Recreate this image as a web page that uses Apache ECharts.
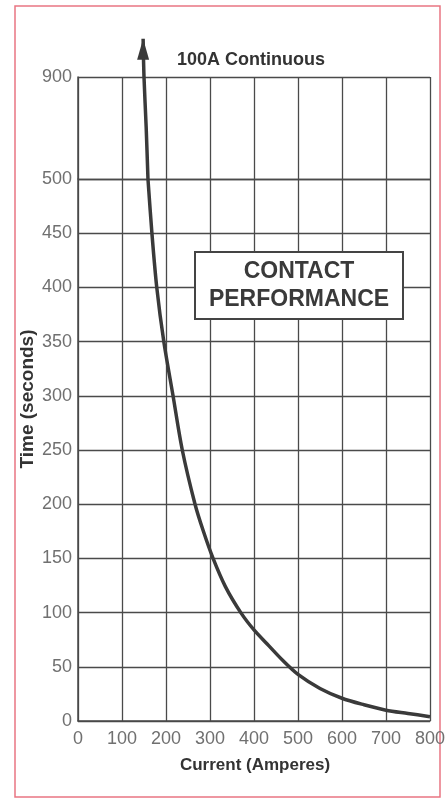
<!DOCTYPE html>
<html>
<head>
<meta charset="utf-8">
<script src="https://cdn.jsdelivr.net/npm/echarts@6/dist/echarts.min.js"></script>
<style>
  html, body { margin: 0; padding: 0; background: #ffffff; }
  #chart { width: 448px; height: 798px; }
</style>
</head>
<body>
<div id="chart"></div>
<script>
// Curve: current (A) vs time (s)
const currentA = [148, 150, 155, 159, 168, 179, 195, 216, 237, 266, 285, 307, 335, 370, 400, 430, 465, 500, 550, 600, 650, 700, 750, 800];
const timeS    = [1050, 900, 700, 500, 450, 400, 350, 300, 250, 200, 175, 150, 124, 100, 84, 71, 56, 43, 30, 21, 15, 10, 7, 4];
const xTicks = [0, 100, 200, 300, 400, 500, 600, 700, 800];
const yTicksLower = [0, 50, 100, 150, 200, 250, 300, 350, 400, 450, 500];
const yTicksUpper = [500, 900];
const BREAK = 500;

const FONT = "'Liberation Sans', Arial, Helvetica, sans-serif";
const GRIDC = '#4a4a4a';
const LABELC = '#707070';

const pts = currentA.map((a, i) => [a, timeS[i]]);
const upperPts = pts.filter(p => p[1] >= BREAK);
const lowerPts = pts.filter(p => p[1] <= BREAK);
const upperData = upperPts.map((p, i) => {
  if (i === 0) {
    return { value: p, symbol: 'triangle', symbolSize: [12, 21], symbolOffset: [0, '50%'] };
  }
  return { value: p };
});

const chart = echarts.init(document.getElementById('chart'), null, { renderer: 'canvas' });

const xCommon = {
  type: 'value', min: xTicks[0], max: xTicks[xTicks.length - 1], interval: 100,
  splitLine: { show: true, lineStyle: { color: GRIDC, width: 1.3 } },
  axisTick: { show: false }
};

chart.setOption({
  backgroundColor: '#ffffff',
  animation: false,
  grid: [
    { left: 78, right: 18, top: 77, height: 102 },
    { left: 78, right: 18, top: 179, height: 542 }
  ],
  xAxis: [
    Object.assign({}, xCommon, {
      gridIndex: 0,
      axisLine: { show: false },
      axisLabel: { show: false }
    }),
    Object.assign({}, xCommon, {
      gridIndex: 1,
      axisLine: { show: true, onZero: false, lineStyle: { color: GRIDC, width: 1.5 } },
      axisLabel: { show: true, color: LABELC, fontSize: 18, fontFamily: FONT, margin: 9 }
    })
  ],
  yAxis: [
    {
      type: 'value', gridIndex: 0, min: yTicksUpper[0], max: yTicksUpper[1], interval: yTicksUpper[1] - yTicksUpper[0],
      axisLine: { show: true, lineStyle: { color: GRIDC, width: 1.5 } },
      axisTick: { show: false },
      splitLine: { show: true, lineStyle: { color: GRIDC, width: 1.3 } },
      axisLabel: {
        color: LABELC, fontSize: 18, fontFamily: FONT, margin: 6,
        formatter: v => (v === yTicksUpper[1] ? String(v) : '')
      }
    },
    {
      type: 'value', gridIndex: 1, min: yTicksLower[0], max: yTicksLower[yTicksLower.length - 1], interval: 50,
      axisLine: { show: true, lineStyle: { color: GRIDC, width: 1.5 } },
      axisTick: { show: false },
      splitLine: { show: true, lineStyle: { color: GRIDC, width: 1.3 } },
      axisLabel: { color: LABELC, fontSize: 18, fontFamily: FONT, margin: 6 }
    }
  ],
  series: [
    {
      type: 'line', xAxisIndex: 0, yAxisIndex: 0, data: upperData,
      smooth: 0.3, clip: false, symbol: 'none', showSymbol: true,
      itemStyle: { color: '#3a3a3a' },
      lineStyle: { color: '#3a3a3a', width: 3.5 },
      z: 5
    },
    {
      type: 'line', xAxisIndex: 1, yAxisIndex: 1, data: lowerPts,
      smooth: 0.3, symbol: 'none',
      lineStyle: { color: '#3a3a3a', width: 3.5 },
      z: 5
    }
  ],
  graphic: [
    {
      type: 'rect', z: 0, silent: true,
      shape: { x: 15, y: 6, width: 425, height: 791 },
      style: { fill: 'rgba(0,0,0,0)', stroke: '#e97582', lineWidth: 1.5 }
    },
    {
      type: 'text', z: 10,
      style: { text: '100A Continuous', x: 251, y: 60, align: 'center', verticalAlign: 'middle',
               font: 'bold 18px ' + FONT, fill: '#333333' }
    },
    {
      type: 'rect', z: 10,
      shape: { x: 195, y: 252, width: 208, height: 67 },
      style: { fill: '#ffffff', stroke: '#444444', lineWidth: 2 }
    },
    {
      type: 'text', z: 11,
      style: { text: 'CONTACT', x: 299, y: 272, align: 'center', verticalAlign: 'middle',
               font: 'bold 23px ' + FONT, fill: '#3a3a3a' }
    },
    {
      type: 'text', z: 11,
      style: { text: 'PERFORMANCE', x: 299, y: 300, align: 'center', verticalAlign: 'middle',
               font: 'bold 23px ' + FONT, fill: '#3a3a3a' }
    },
    {
      type: 'text', z: 10, x: 28, y: 399, rotation: Math.PI / 2,
      style: { text: 'Time (seconds)', x: 0, y: 0, align: 'center', verticalAlign: 'middle',
               font: 'bold 19px ' + FONT, fill: '#333333' }
    },
    {
      type: 'text', z: 10,
      style: { text: 'Current (Amperes)', x: 255, y: 765, align: 'center', verticalAlign: 'middle',
               font: 'bold 17px ' + FONT, fill: '#333333' }
    }
  ]
});
</script>
</body>
</html>
